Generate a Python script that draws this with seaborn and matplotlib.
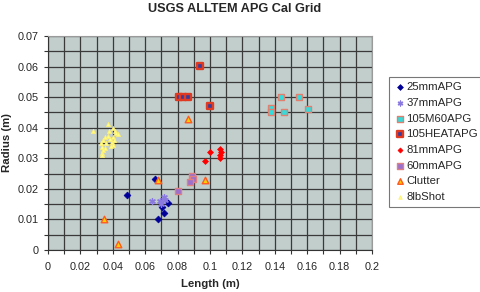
import matplotlib
matplotlib.use("Agg")
import matplotlib.pyplot as plt
import seaborn as sns
import numpy as np
import pandas as pd
from matplotlib.ticker import MultipleLocator

sns.set_style("white")
plt.rcParams['font.family'] = ['Liberation Sans', 'DejaVu Sans']

# ---- data ----
x_25mm = [0.066, 0.049, 0.0739, 0.0702, 0.0718, 0.0677]
y_25mm = [0.0231, 0.018, 0.0153, 0.0142, 0.0122, 0.0102]

x_37mm = [0.064, 0.069, 0.0716, 0.070, 0.072]
y_37mm = [0.0161, 0.0161, 0.0172, 0.0150, 0.0165]

x_105m60 = [0.1436, 0.1548, 0.1375, 0.1375, 0.1455, 0.1603]
y_105m60 = [0.0502, 0.0502, 0.0463, 0.0450, 0.0451, 0.0462]

x_105heat = [0.094, 0.081, 0.0835, 0.0862, 0.100]
y_105heat = [0.0602, 0.050, 0.050, 0.050, 0.0472]

x_81mm = [0.0998, 0.106, 0.107, 0.106, 0.106, 0.0969]
y_81mm = [0.0322, 0.0330, 0.0320, 0.0310, 0.0300, 0.0291]

x_60mm = [0.0802, 0.0887, 0.0897, 0.0877]
y_60mm = [0.0194, 0.0242, 0.0231, 0.0222]

x_clutter = [0.0677, 0.0967, 0.0346, 0.043, 0.0866]
y_clutter = [0.0229, 0.0229, 0.010, 0.002, 0.043]

x_8lb = [0.028, 0.0368, 0.040, 0.0379, 0.0414, 0.042, 0.043, 0.0403, 0.0372, 0.0352,
         0.034, 0.0325, 0.0358, 0.0393, 0.0403, 0.0389, 0.0331, 0.0352, 0.0338, 0.0331,
         0.0331, 0.0407, 0.0383]
y_8lb = [0.039, 0.0412, 0.040, 0.039, 0.039, 0.0382, 0.038, 0.037, 0.0373, 0.0369,
         0.036, 0.0351, 0.0351, 0.0354, 0.0343, 0.034, 0.0338, 0.0333, 0.0327, 0.0316,
         0.0311, 0.036, 0.0362]

series_names = ["25mmAPG", "37mmAPG", "105M60APG", "105HEATAPG",
                "81mmAPG", "60mmAPG", "Clutter", "8lbShot"]
xs = [x_25mm, x_37mm, x_105m60, x_105heat, x_81mm, x_60mm, x_clutter, x_8lb]
ys = [y_25mm, y_37mm, y_105m60, y_105heat, y_81mm, y_60mm, y_clutter, y_8lb]

styles = {
    "25mmAPG":    dict(marker="D", s=12, color="#000099", edgecolor="#000099", linewidth=0.5),
    "37mmAPG":    dict(marker=(6, 2, 0), s=16, color="#8a7ae0", linewidth=1.0),
    "105M60APG":  dict(marker="s", s=20, color="#33dddd", edgecolor="#e08070", linewidth=1.0),
    "105HEATAPG": dict(marker="s", s=24, color="#3a3a9a", edgecolor="#e03a22", linewidth=1.7),
    "81mmAPG":    dict(marker="D", s=9, color="#ff0000", edgecolor="#ff0000", linewidth=0.5),
    "60mmAPG":    dict(marker="s", s=24, color="#9a70d0", edgecolor="#e08080", linewidth=1.0),
    "Clutter":    dict(marker="^", s=22, color="#ffd000", edgecolor="#ff5a20", linewidth=1.0),
    "8lbShot":    dict(marker="^", s=9, color="#ffff80", edgecolor="#ffee70", linewidth=0.5),
}

fig = plt.figure(figsize=(4.8, 2.92), dpi=100)
ax = fig.add_axes([48/480, 1-250/292, 324/480, 214/292])
ax.set_facecolor("#c2cecc")

for name, xv, yv in zip(series_names, xs, ys):
    df = pd.DataFrame({"x": xv, "y": yv})
    sns.scatterplot(data=df, x="x", y="y", ax=ax, label=name, zorder=3, **styles[name])

ax.set_xlim(0, 0.2)
ax.set_ylim(0, 0.07)
ax.xaxis.set_major_locator(MultipleLocator(0.02))
ax.xaxis.set_minor_locator(MultipleLocator(0.01))
ax.yaxis.set_major_locator(MultipleLocator(0.01))
ax.yaxis.set_minor_locator(MultipleLocator(0.005))
ax.set_xticklabels([("0" if abs(v) < 1e-9 else f"{v:g}") for v in ax.get_xticks()])
ax.set_yticklabels([("0" if abs(v) < 1e-9 else f"{v:g}") for v in ax.get_yticks()])
ax.grid(True, which="both", color="#3a3a3a", linewidth=0.9)
ax.set_axisbelow(True)
ax.tick_params(axis="both", which="both", direction="out", length=3, width=0.8,
               color="#333333", labelsize=7.8, pad=4, left=True, bottom=True)
ax.tick_params(axis="x", pad=6)
for side in ["top", "right"]:
    ax.spines[side].set_color("#9a9a9a")
    ax.spines[side].set_linewidth(0.8)
for side in ["left", "bottom"]:
    ax.spines[side].set_color("#333333")
    ax.spines[side].set_linewidth(0.8)

ax.set_xlabel("Length (m)", fontsize=8.2, fontweight="bold", labelpad=5)
ax.set_ylabel("Radius (m)", fontsize=8.2, fontweight="bold", va="center")
ax.yaxis.set_label_coords((7 - 48) / 324, (250 - 143) / 214)
fig.text(235/480, 1-9/292, "USGS ALLTEM APG Cal Grid", ha="center", va="center",
         fontsize=9.2, fontweight="bold")

leg = ax.legend(loc="upper left", bbox_to_anchor=(389/480, 1-77/292),
                bbox_transform=fig.transFigure, frameon=True, fancybox=False,
                fontsize=8.2, handletextpad=0.05, borderpad=0.45, labelspacing=0.5,
                handlelength=1.0, borderaxespad=0, markerscale=0.85)
leg.get_frame().set_edgecolor("#555555")
leg.get_frame().set_linewidth(0.8)

fig.savefig("out.png", dpi=100)
